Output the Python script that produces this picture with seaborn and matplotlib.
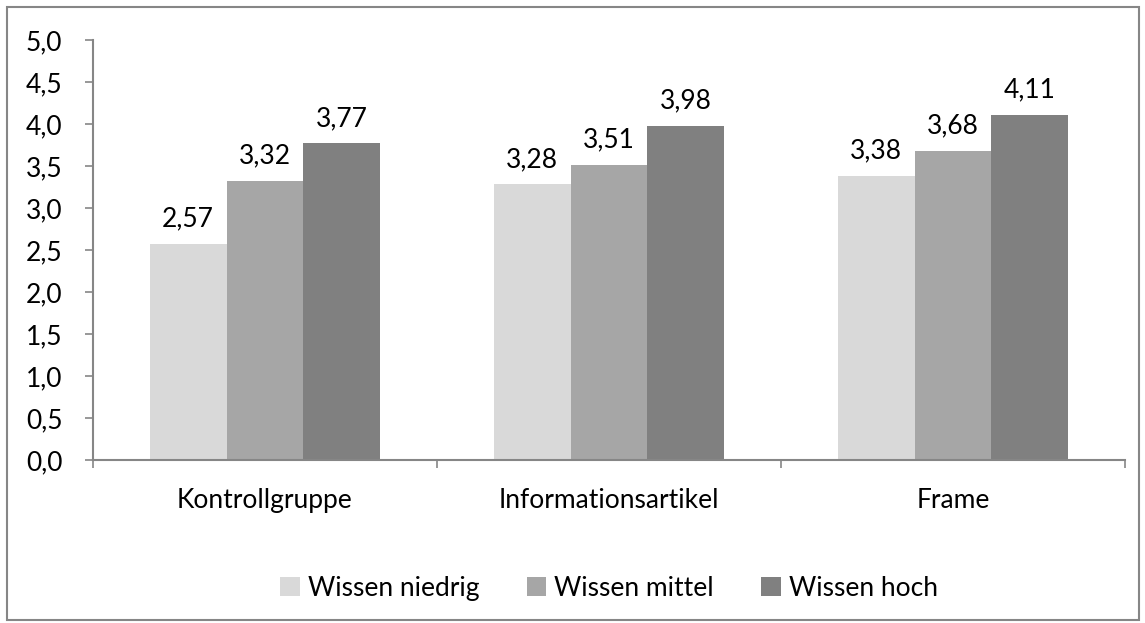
import seaborn as sns
import matplotlib.pyplot as plt
import pandas as pd
from matplotlib.patches import Rectangle
from matplotlib.ticker import FixedLocator

categories = ["Kontrollgruppe", "Informationsartikel", "Frame"]
groups = ["Wissen niedrig", "Wissen mittel", "Wissen hoch"]
niedrig = [2.57, 3.28, 3.38]
mittel = [3.32, 3.51, 3.68]
hoch = [3.77, 3.98, 4.11]
colors = ["#D9D9D9", "#A6A6A6", "#808080"]

df = pd.DataFrame({
    "Gruppe": categories * 3,
    "Wissen": [g for g in groups for _ in categories],
    "Wert": niedrig + mittel + hoch,
})

sns.set_style("white")
plt.rcParams['font.family'] = ['Lato', 'DejaVu Sans']
fs = 19

fig = plt.figure(figsize=(11.45, 6.23), dpi=100)
ax = fig.add_axes([0.0812, 0.2616, 0.9013, 0.6742])

sns.barplot(data=df, x="Gruppe", y="Wert", hue="Wissen", palette=colors,
            width=0.67, saturation=1, linewidth=0, ax=ax, legend=True)

for cont in ax.containers:
    ax.bar_label(cont, labels=[f"{b.get_height():.2f}".replace(".", ",") for b in cont],
                 padding=9, fontsize=fs, color="black")

ax.set_ylim(0, 5)
ax.set_xlim(-0.5, 2.5)
yt = [i * 0.5 for i in range(11)]
ax.set_yticks(yt)
ax.set_yticklabels([f"{v:.1f}".replace(".", ",") for v in yt], fontsize=fs, color="black")
ax.tick_params(axis="y", direction="out", length=6, color="#868686", width=1.2, left=True, pad=16)
ax.set_xticks(range(3))
ax.set_xticklabels(categories, fontsize=fs, color="black")
ax.tick_params(axis="x", which="major", length=0, pad=20)
ax.xaxis.set_minor_locator(FixedLocator([-0.5, 0.5, 1.5, 2.5]))
ax.tick_params(axis="x", which="minor", direction="out", length=6, color="#868686", width=1.2, bottom=True)
ax.set_xlabel("")
ax.set_ylabel("")

for s in ["top", "right"]:
    ax.spines[s].set_visible(False)
for s in ["left", "bottom"]:
    ax.spines[s].set_color("#868686")
    ax.spines[s].set_linewidth(1.5)

ax.legend(loc="center", bbox_to_anchor=(0.5, -0.305), ncol=3, frameon=False,
          fontsize=fs, handlelength=0.75, handleheight=0.75, handletextpad=0.3,
          columnspacing=1.8, labelcolor="black")

fig.patches.append(Rectangle((7 / 1145, 3 / 623), 1132 / 1145, 613 / 623,
                             transform=fig.transFigure, fill=False,
                             edgecolor="#868686", linewidth=1.5))

fig.savefig("out.png", dpi=100)
